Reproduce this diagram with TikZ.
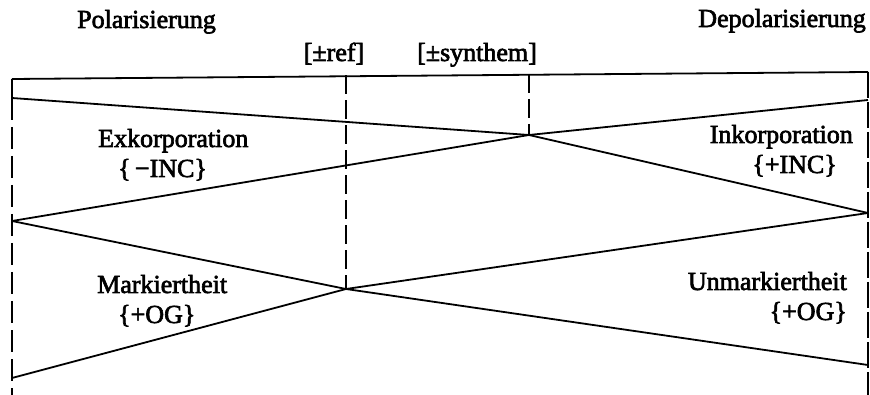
\documentclass[tikz,border=0pt]{standalone}
\usepackage{fontspec}
\setmainfont{Liberation Serif}[FakeBold=2.5]
\begin{document}
\begin{tikzpicture}[x=1pt,y=-1pt,
  rule/.style={line width=1.8pt},
  frame/.style={line width=1.8pt, dash pattern=on 22pt off 7pt},
  rightframe/.style={line width=1.8pt, dash pattern=on 26pt off 4pt},
  divider/.style={line width=1.8pt, dash pattern=on 19pt off 6pt},
  lbl/.style={inner sep=0pt, font=\fontsize{26}{30}\selectfont}]
\useasboundingbox (0,0) rectangle (870,395);

% frame corners
\coordinate (tl) at (12,79);
\coordinate (tr) at (868,72);
\coordinate (bl) at (12,395);
\coordinate (br) at (868,395);

% end points on the left and right edges
\coordinate (l1) at (12,98);
\coordinate (l2) at (12,221);
\coordinate (l3) at (12,378);
\coordinate (r1) at (868,100);
\coordinate (r2) at (868,213);
\coordinate (r3) at (868,365);

% crossing points
\coordinate (xs) at (529,135);
\coordinate (xr) at (346,289);

% tops of the dashed dividers on the top rule
\coordinate (ts) at (529,74);
\coordinate (tref) at (346,75.5);

% top rule and frame sides
\draw[rule] (tl) -- (tr);
\draw[rule] (tl) -- (l1);
\draw[frame] (l1) -- (bl);
\draw[rightframe] (tr) -- (br);

% dividers
\draw[divider] (tref) -- (xr);
\draw[divider] (ts) -- (xs);

% upper crossing
\draw[rule] (l1) -- (xs) -- (r2);
\draw[rule] (l2) -- (xs) -- (r1);

% lower crossing
\draw[rule] (l2) -- (xr) -- (r3);
\draw[rule] (l3) -- (xr) -- (r2);

% headings
\node[lbl, anchor=base west] (pol) at (77,28) {Polarisierung};
\node[lbl, anchor=base east] (depol) at (866,27) {Depolarisierung};
\node[lbl, anchor=base] (ref) at (334,61) {[±ref]};
\node[lbl, anchor=base] (syn) at (477,61) {[±synthem]};

% region labels
\node[lbl, anchor=base west] (exk) at (98,147) {Exkorporation};
\node[lbl, anchor=base west] (exkf) at (118,177) {\{\,−INC\}};
\node[lbl, anchor=base east] (ink) at (853,143) {Inkorporation};
\node[lbl, anchor=base east] (inkf) at (837,173) {\{+INC\}};
\node[lbl, anchor=base west] (mark) at (97,293) {Markiertheit};
\node[lbl, anchor=base west] (markf) at (118,323) {\{+OG\}};
\node[lbl, anchor=base east] (unm) at (847,290) {Unmarkiertheit};
\node[lbl, anchor=base east] (unmf) at (847,320) {\{+OG\}};
\end{tikzpicture}
\end{document}
